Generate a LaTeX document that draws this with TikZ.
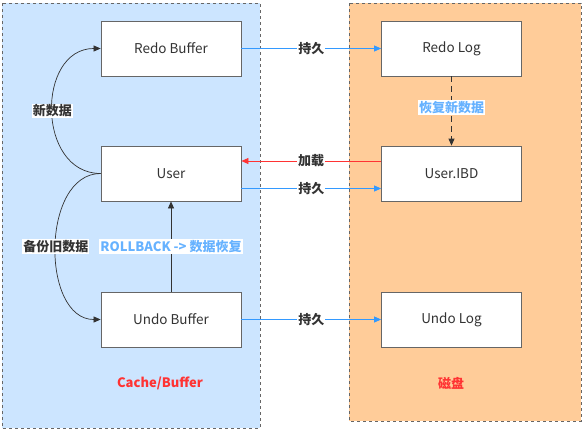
\documentclass[tikz,border=0pt]{standalone}
\usepackage{fontspec}
\setmainfont{Noto Sans CJK SC}
\usetikzlibrary{arrows.meta}
\definecolor{lbfill}{HTML}{CCE5FF}
\definecolor{orfill}{HTML}{FFCC99}
\definecolor{brd}{HTML}{666666}
\definecolor{txt}{HTML}{333333}
\definecolor{bluearr}{HTML}{3399FF}
\definecolor{lbtext}{HTML}{66B2FF}
\definecolor{redarr}{HTML}{FF3333}
\tikzset{
  container/.style={draw=brd, dashed, line width=0.8pt},
  box/.style={draw=brd, fill=white, line width=0.8pt, minimum width=140pt, minimum height=55pt, inner sep=0pt, font=\fontsize{13.5}{15}\selectfont, text=txt},
  persist/.style={-{Triangle[length=7pt,width=6pt,fill=bluearr]}, draw=bluearr, line width=0.8pt},
  loadarr/.style={-{Triangle[length=7pt,width=6pt,fill=redarr]}, draw=redarr, line width=0.7pt},
  curvearr/.style={-{Triangle[length=7pt,width=6pt,fill=txt]}, draw=txt, line width=0.7pt},
  lbl/.style={font=\fontsize{13}{15}\selectfont\bfseries, text=txt, fill=white, inner sep=1pt},
  blbl/.style={font=\fontsize{13}{15}\selectfont\bfseries, text=lbtext, fill=white, inner sep=1pt},
  title/.style={font=\fontsize{13}{15}\selectfont\bfseries, text=redarr}
}
\begin{document}
\begin{tikzpicture}[x=1pt,y=-1pt]
\useasboundingbox (0,0) rectangle (583,429);
\filldraw[container, fill=lbfill] (2,3) rectangle (260,428);
\filldraw[container, fill=orfill] (349,3) rectangle (581,421);

\node[box] (redobuf) at (171,48.5) {Redo Buffer};
\node[box] (user) at (171,173.5) {User};
\node[box] (undobuf) at (171,319.5) {Undo Buffer};
\node[box] (redolog) at (451.5,48.5) {Redo Log};
\node[box] (ibd) at (451.5,173.5) {User.IBD};
\node[box] (undolog) at (451.5,319.5) {Undo Log};

\draw[persist] (redobuf.east) -- node[lbl] {持久} (redolog.west);
\draw[persist] ([yshift=-15pt]user.east) -- node[lbl] {持久} ([yshift=-15pt]ibd.west);
\draw[persist] (undobuf.east) -- node[lbl] {持久} (undolog.west);
\draw[loadarr] ([yshift=12.5pt]ibd.west) -- ([yshift=12.5pt]user.east);
\node[lbl] (loadlbl) at (311,161) {加载};

\draw[-{Triangle[length=7pt,width=6pt,fill=txt]}, draw=txt, line width=0.9pt, dash pattern=on 6pt off 4pt] (redolog.south) -- node[blbl, pos=0.45] {恢复新数据} (ibd.north);

\draw[curvearr] (undobuf.north) -- node[blbl, pos=0.5] {ROLLBACK -> 数据恢复} (user.south);

\draw[curvearr] (user.west) to[out=180, in=180, looseness=1.32] node[lbl, pos=0.5] {新数据} (redobuf.west);
\draw[curvearr] (user.west) to[out=180, in=180, looseness=1.05] node[lbl, pos=0.5] {备份旧数据} (undobuf.west);

\node[title] (cachelbl) at (160,383) {Cache/Buffer};
\node[title] (disklbl) at (451,383) {磁盘};
\end{tikzpicture}
\end{document}
